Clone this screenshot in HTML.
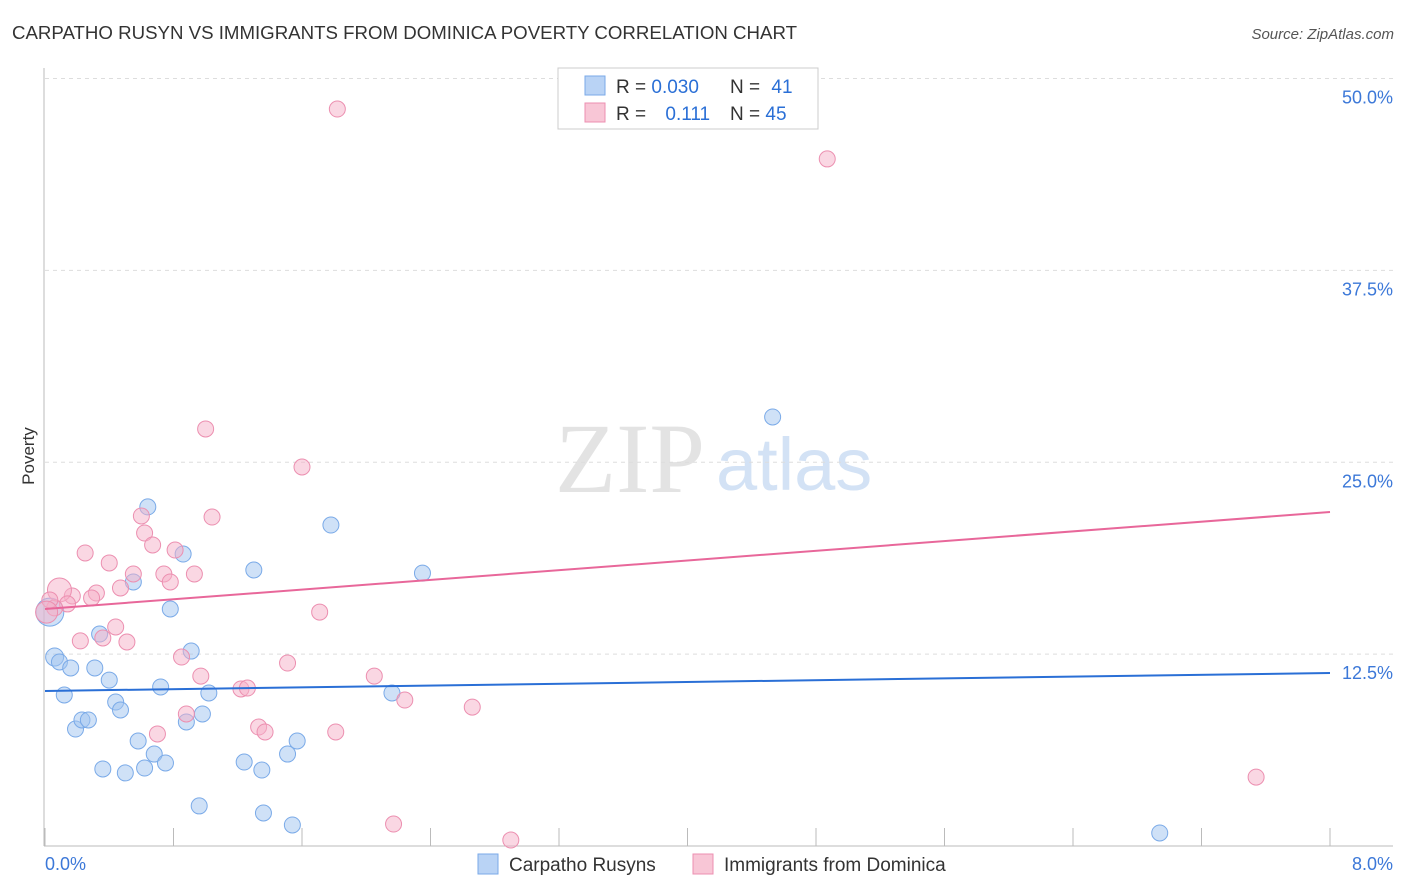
<!DOCTYPE html>
<html><head><meta charset="utf-8">
<style>
body{margin:0;background:#fff;font-family:"Liberation Sans",sans-serif;}
#wrap{position:relative;width:1406px;height:892px;overflow:hidden;}
</style></head>
<body>
<div id="wrap">
<svg id="chart" width="1406" height="892">
<text x="12" y="39" font-size="18" fill="#333" textLength="785" lengthAdjust="spacingAndGlyphs">CARPATHO RUSYN VS IMMIGRANTS FROM DOMINICA POVERTY CORRELATION CHART</text>
<text x="1394" y="39" font-size="15" fill="#555" font-style="italic" text-anchor="end">Source: ZipAtlas.com</text>
<text x="34" y="456" font-size="17" fill="#333" transform="rotate(-90 34 456)" text-anchor="middle">Poverty</text>
<text x="555" y="492" font-size="100" fill="#e3e3e3" font-family="Liberation Serif,serif">ZIP</text>
<text x="716" y="490" font-size="74" fill="#d3e2f5">atlas</text>
<g id="grid"></g><g id="axes"></g><g id="marks"></g>
<g>
<rect x="558" y="68" width="260" height="61" fill="#fff" stroke="#ccc"/>
<rect x="585" y="76" width="20" height="19" fill="#b9d3f5" stroke="#7aaae8"/>
<rect x="585" y="103" width="20" height="19" fill="#f8c6d6" stroke="#ec8fb0"/>
<text x="616" y="93" font-size="19" fill="#333">R = <tspan fill="#2a6fd6">0.030</tspan></text>
<text x="730" y="93" font-size="19" fill="#333">N = <tspan fill="#2a6fd6" dx="6">41</tspan></text>
<text x="616" y="120" font-size="19" fill="#333">R = <tspan fill="#2a6fd6" dx="14">0.111</tspan></text>
<text x="730" y="120" font-size="19" fill="#333">N = <tspan fill="#2a6fd6">45</tspan></text>
</g>
<g>
<rect x="478" y="854" width="20" height="20" fill="#b9d3f5" stroke="#7aaae8"/>
<text x="509" y="871" font-size="19" fill="#333">Carpatho Rusyns</text>
<rect x="693" y="854" width="20" height="20" fill="#f8c6d6" stroke="#ec8fb0"/>
<text x="724" y="871" font-size="19" fill="#333">Immigrants from Dominica</text>
</g>
</svg>
</div>
<script>
const xTicks=[0,0.8,1.6,2.4,3.2,4,4.8,5.6,6.4,7.2,8];
const yTicks=[12.5,25,37.5,50];
const yTickLabels=["12.5%","25.0%","37.5%","50.0%"];
const blueX=[.03,.06,.09,.16,.12,.19,.23,.27,.31,.34,.36,.40,.44,.47,.50,.55,.58,.62,.64,.68,.72,.75,.78,.86,.88,.91,.96,.98,1.02,1.24,1.30,1.35,1.36,1.51,1.54,1.57,1.78,2.16,2.35,4.53,6.94];
const blueY=[15.24,12.31,11.99,11.6,9.84,7.62,8.21,8.21,11.6,13.81,5.02,10.81,9.38,8.86,4.76,17.2,6.84,5.08,22.09,5.99,10.36,5.41,15.44,19.02,8.08,12.7,2.61,8.6,9.97,5.47,17.98,4.95,2.15,5.99,1.37,6.84,20.91,9.97,17.78,27.95,0.85];
const blueSize=[14,9,8,8,8,8,8,8,8,8,8,8,8,8,8,8,8,8,8,8,8,8,8,8,8,8,8,8,8,8,8,8,8,8,8,8,8,8,8,8,8];
const pinkX=[1.82,4.87,1.0,1.6,.6,1.04,.62,.67,.81,.25,.4,.55,.74,.93,.78,.47,.32,.17,.09,.29,.14,.06,.03,1.71,.44,.22,.36,.51,.85,1.51,.97,2.05,1.22,1.26,2.24,2.66,.88,1.33,1.37,1.81,.7,7.54,2.17,2.9,.01];
const pinkY=[48.01,44.76,27.17,24.69,21.5,21.43,20.39,19.61,19.28,19.09,18.44,17.72,17.72,17.72,17.2,16.81,16.48,16.29,16.68,16.16,15.77,15.51,16.03,15.24,14.27,13.36,13.55,13.29,12.31,11.92,11.07,11.07,10.23,10.29,9.51,9.05,8.6,7.75,7.43,7.43,7.3,4.49,1.43,0.39,15.24];
const pinkSize=[8,8,8,8,8,8,8,8,8,8,8,8,8,8,8,8,8,8,12,8,8,8,8,8,8,8,8,8,8,8,8,8,8,8,8,8,8,8,8,8,8,8,8,8,11];
const blueLine=[10.1,11.27];
const pinkLine=[15.44,21.76];
const X0=45,X1=1330,Y0=846,YPX=15.35;
const sx=v=>X0+v/8*(X1-X0);
const sy=v=>Y0-v*YPX;
const NS="http://www.w3.org/2000/svg";
function mk(tag,attrs,parent){const e=document.createElementNS(NS,tag);for(const k in attrs)e.setAttribute(k,attrs[k]);document.getElementById(parent).appendChild(e);return e;}
yTicks.forEach((t,i)=>{
 const g=mk('line',{x1:45,x2:1393,y1:sy(t),y2:sy(t),stroke:'#ddd','stroke-dasharray':'4,4'},'grid');
 
 
 const l=mk('text',{x:1393,y:sy(t)+25,'font-size':18,fill:'#3c78d8','text-anchor':'end'},'axes');
 l.textContent=yTickLabels[i];
 
 
});
const ax=mk('line',{x1:44,x2:44,y1:68,y2:846,stroke:'#bbb'},'axes');


const bx=mk('line',{x1:44,x2:1393,y1:846,y2:846,stroke:'#bbb'},'axes');


xTicks.forEach(t=>{
 const k=mk('line',{x1:sx(t),x2:sx(t),y1:828,y2:846,stroke:'#bbb'},'axes');
 
 
});
const xl=mk('text',{x:45,y:870,'font-size':18,fill:'#3c78d8'},'axes');xl.textContent='0.0%';


const xr=mk('text',{x:1393,y:870,'font-size':18,fill:'#3c78d8','text-anchor':'end'},'axes');xr.textContent='8.0%';


blueX.forEach((v,i)=>{
 const c=mk('circle',{cx:sx(v),cy:sy(blueY[i]),r:blueSize[i],fill:'rgba(160,195,240,0.5)',stroke:'#7aaae8','stroke-width':1},'marks');
 
 
});
pinkX.forEach((v,i)=>{
 const c=mk('circle',{cx:sx(v),cy:sy(pinkY[i]),r:pinkSize[i],fill:'rgba(245,175,200,0.5)',stroke:'#ec8fb0','stroke-width':1},'marks');
 
 
});
const bl=mk('line',{x1:sx(0),x2:sx(8),y1:sy(blueLine[0]),y2:sy(blueLine[1]),stroke:'#2a6fd6','stroke-width':2},'marks');


const pl=mk('line',{x1:sx(0),x2:sx(8),y1:sy(pinkLine[0]),y2:sy(pinkLine[1]),stroke:'#e8679a','stroke-width':2},'marks');


</script>
</body></html>
